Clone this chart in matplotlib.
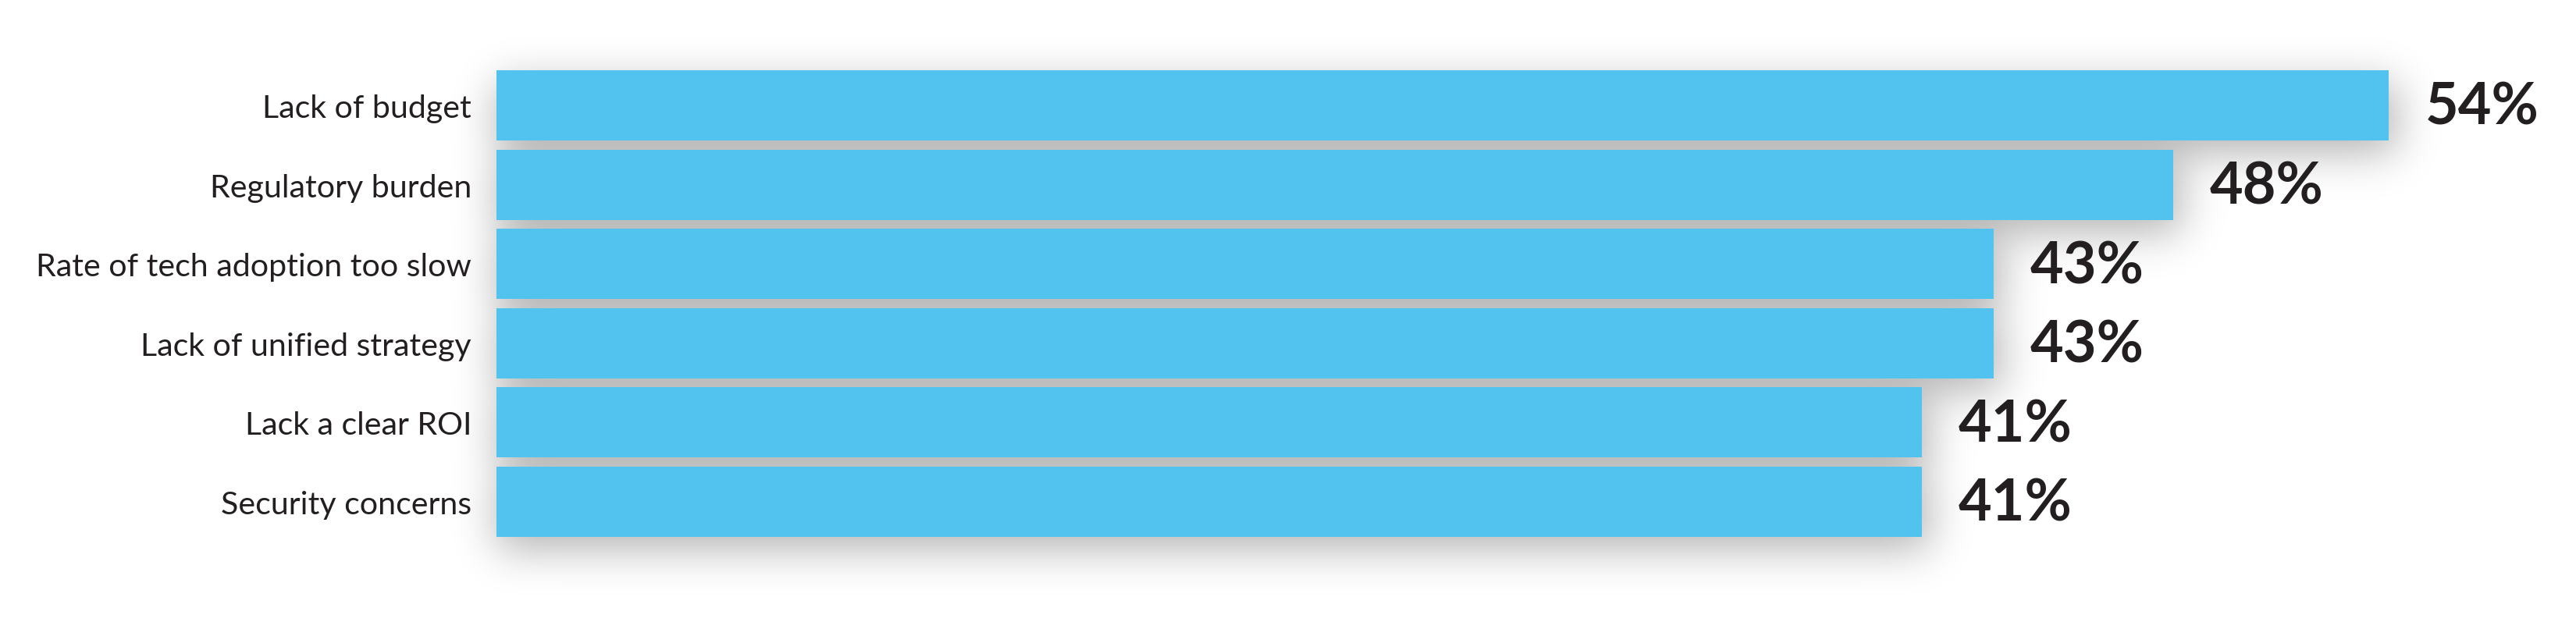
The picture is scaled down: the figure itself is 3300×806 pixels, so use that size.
import numpy as np
import matplotlib
matplotlib.use("Agg")
import matplotlib.pyplot as plt

categories = ["Lack of budget", "Regulatory burden", "Rate of tech adoption too slow",
              "Lack of unified strategy", "Lack a clear ROI", "Security concerns"]
values = [54, 48, 43, 43, 41, 41]
value_labels = ["54%", "48%", "43%", "43%", "41%", "41%"]

W, H, DPI = 3300, 806, 100
BAR_COLOR = "#51C3EE"
TEXT_COLOR = "#231F20"

fig = plt.figure(figsize=(W / DPI, H / DPI), dpi=DPI)
fig.patch.set_facecolor("white")

# background axes for shadow
ax_bg = fig.add_axes([0, 0, 1, 1], zorder=0)
ax_bg.set_xlim(0, W)
ax_bg.set_ylim(0, H)
ax_bg.axis("off")

zero_px = 576
left_px = 636
px_per_unit = 46.0
xmin = (left_px - zero_px) / px_per_unit
xmax = 58
ax = fig.add_axes([left_px / W, 0, (xmax - xmin) * px_per_unit / W, 1], zorder=1)
ax.patch.set_alpha(0)
pitch = 101.6
top_center = 135
ax.set_xlim(xmin, xmax)
ax.set_ylim((H - top_center) / pitch, -top_center / pitch)
ax.axis("off")

ypos = np.arange(len(categories))
bar_h = 90 / pitch
bars = ax.barh(ypos, values, height=bar_h, color=BAR_COLOR, edgecolor="none", zorder=2)

for y, v, lab, cat in zip(ypos, values, value_labels, categories):
    ax.text(v + 47 / px_per_unit, y + 25 / pitch, lab, ha="left", va="baseline",
            fontsize=53, fontweight="bold", family="Lato", color=TEXT_COLOR, clip_on=False)
    ax.text(xmin - 32 / px_per_unit, y + 16 / pitch, cat, ha="right", va="baseline",
            fontsize=29.6, family="Lato", color=TEXT_COLOR, clip_on=False)

# shadow built from bar extents
fig.canvas.draw()
mask = np.zeros((H, W))
for b in bars:
    x0, y0 = ax.transData.transform((max(b.get_x(), xmin), b.get_y()))
    x1, y1 = ax.transData.transform((b.get_x() + b.get_width(), b.get_y() + b.get_height()))
    xa, xb = sorted([x0, x1])
    ya, yb = sorted([y0, y1])
    off = 16
    r0 = int(round(H - yb + off)); r1 = int(round(H - ya + off))
    mask[max(r0, 0):min(r1, H), int(round(xa)):int(round(xb)) + 10] = 1.0
sigma = 27
n = int(sigma * 4)
k = np.exp(-0.5 * (np.arange(-n, n + 1) / sigma) ** 2)
k /= k.sum()
pad = n
m = np.pad(mask, pad)
m = np.apply_along_axis(lambda r: np.convolve(r, k, mode="same"), 1, m)
m = np.apply_along_axis(lambda c: np.convolve(c, k, mode="same"), 0, m)
m = m[pad:-pad, pad:-pad]
alpha = np.clip(m * 0.30, 0, 1)
rgba = np.zeros((H, W, 4))
rgba[..., 3] = alpha
ax_bg.imshow(rgba, extent=(0, W, 0, H), origin="upper", interpolation="bilinear", zorder=0)

fig.savefig("out.png", dpi=DPI, facecolor="white")
